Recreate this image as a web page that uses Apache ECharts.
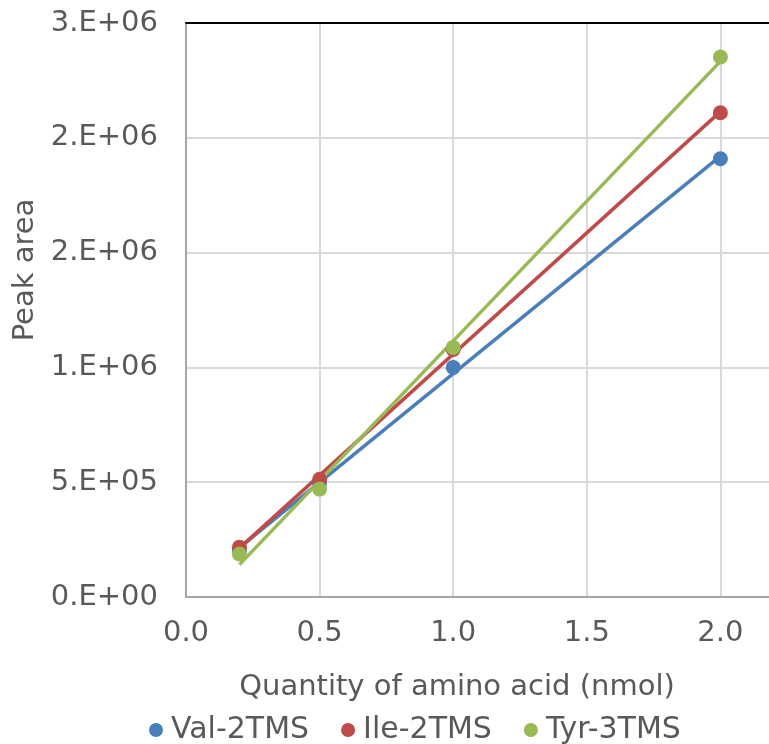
<!DOCTYPE html>
<html>
<head>
<meta charset="utf-8">
<script src="https://cdn.jsdelivr.net/npm/echarts@6/dist/echarts.min.js"></script>
<style>
  html, body { margin: 0; padding: 0; background: #fff; }
  #chart { width: 769px; height: 744px; }
</style>
</head>
<body>
<div id="chart"></div>
<script>
var quantities = [0.2, 0.5, 1.0, 2.0];
var valArea = [204000, 496000, 1000000, 1909000];
var ileArea = [217000, 513000, 1078000, 2109000];
var tyrArea = [187000, 470000, 1087000, 2352000];

// trendline ends at x = 0.2 and x = 2.0
var fitX = [0.2, 2.0];
var valFit = [215000, 1920000];
var ileFit = [213000, 2114000];
var tyrFit = [141000, 2333000];

var yTickLabels = ["0.E+00", "5.E+05", "1.E+06", "2.E+06", "2.E+06", "3.E+06"];
var xTickLabels = ["0.0", "0.5", "1.0", "1.5", "2.0", "2.5"];

var names = ["Val-2TMS", "Ile-2TMS", "Tyr-3TMS"];
var colors = ["#4a7ebb", "#be4b48", "#98b954"];

var font = "DejaVu Sans, Verdana, sans-serif";
var textColor = "#595959";

function pairs(xs, ys) {
  var out = [];
  for (var i = 0; i < xs.length; i++) out.push([xs[i], ys[i]]);
  return out;
}

var chart = echarts.init(document.getElementById("chart"), null, { renderer: "canvas" });

var areas = [valArea, ileArea, tyrArea];
var fits = [valFit, ileFit, tyrFit];
var series = [];

for (var i = 0; i < names.length; i++) {
  series.push({
    name: names[i],
    type: "line",
    data: pairs(fitX, fits[i]),
    showSymbol: false,
    symbol: "none",
    lineStyle: { color: colors[i], width: 3.5 },
    z: 2,
    silent: true
  });
}
for (var j = 0; j < names.length; j++) {
  series.push({
    name: names[j],
    type: "scatter",
    data: pairs(quantities, areas[j]),
    symbol: "circle",
    symbolSize: 15,
    itemStyle: { color: colors[j], opacity: 1 },
    z: 3
  });
}

chart.setOption({
  animation: false,
  backgroundColor: "#fff",
  textStyle: { fontFamily: font },
  // the plot runs past the right edge of the picture (x = 2.5 is off screen)
  grid: { left: 186, top: 23, bottom: 147, right: -85, containLabel: false, outerBoundsMode: "none" },
  legend: {
    data: names.map(function (n, k) {
      return { name: n, icon: "circle", itemStyle: { color: colors[k] } };
    }),
    left: 144,
    top: 710,
    itemWidth: 14,
    itemHeight: 14,
    itemGap: 32,
    textStyle: { fontFamily: font, fontSize: 30, color: textColor, padding: [0, 0, 0, 3] }
  },
  xAxis: [
    {
      type: "value",
      min: 0,
      max: 2.5,
      interval: 0.5,
      name: "Quantity of amino acid (nmol)",
      nameLocation: "middle",
      nameGap: 76,
      nameTextStyle: { fontFamily: font, fontSize: 29, color: textColor, padding: [0, 126, 0, 0] },
      axisLine: { show: true, lineStyle: { color: "#a6a6a6", width: 2 } },
      axisTick: { show: false },
      axisLabel: {
        fontFamily: font, fontSize: 29, color: textColor, margin: 22,
        formatter: function (v) { return xTickLabels[Math.round(v / 0.5)]; }
      },
      splitLine: { show: true, lineStyle: { color: "#d9d9d9", width: 2 } }
    },
    {
      type: "value",
      position: "top",
      min: 0,
      max: 2.5,
      axisLine: { show: true, lineStyle: { color: "#000", width: 2 } },
      axisTick: { show: false },
      axisLabel: { show: false },
      splitLine: { show: false }
    }
  ],
  yAxis: {
    type: "value",
    min: 0,
    max: 2500000,
    interval: 500000,
    name: "Peak area",
    nameLocation: "middle",
    nameGap: 146,
    nameRotate: 90,
    nameTextStyle: { fontFamily: font, fontSize: 29, color: textColor, padding: [0, 0, 0, 80] },
    axisLine: { show: true, lineStyle: { color: "#a6a6a6", width: 2 } },
    axisTick: { show: false },
    axisLabel: {
      fontFamily: font, fontSize: 29, color: textColor, margin: 28,
      formatter: function (v) { return yTickLabels[Math.round(v / 500000)]; }
    },
    splitLine: { show: true, lineStyle: { color: "#d9d9d9", width: 2 } }
  },
  series: series
});
</script>
</body>
</html>
